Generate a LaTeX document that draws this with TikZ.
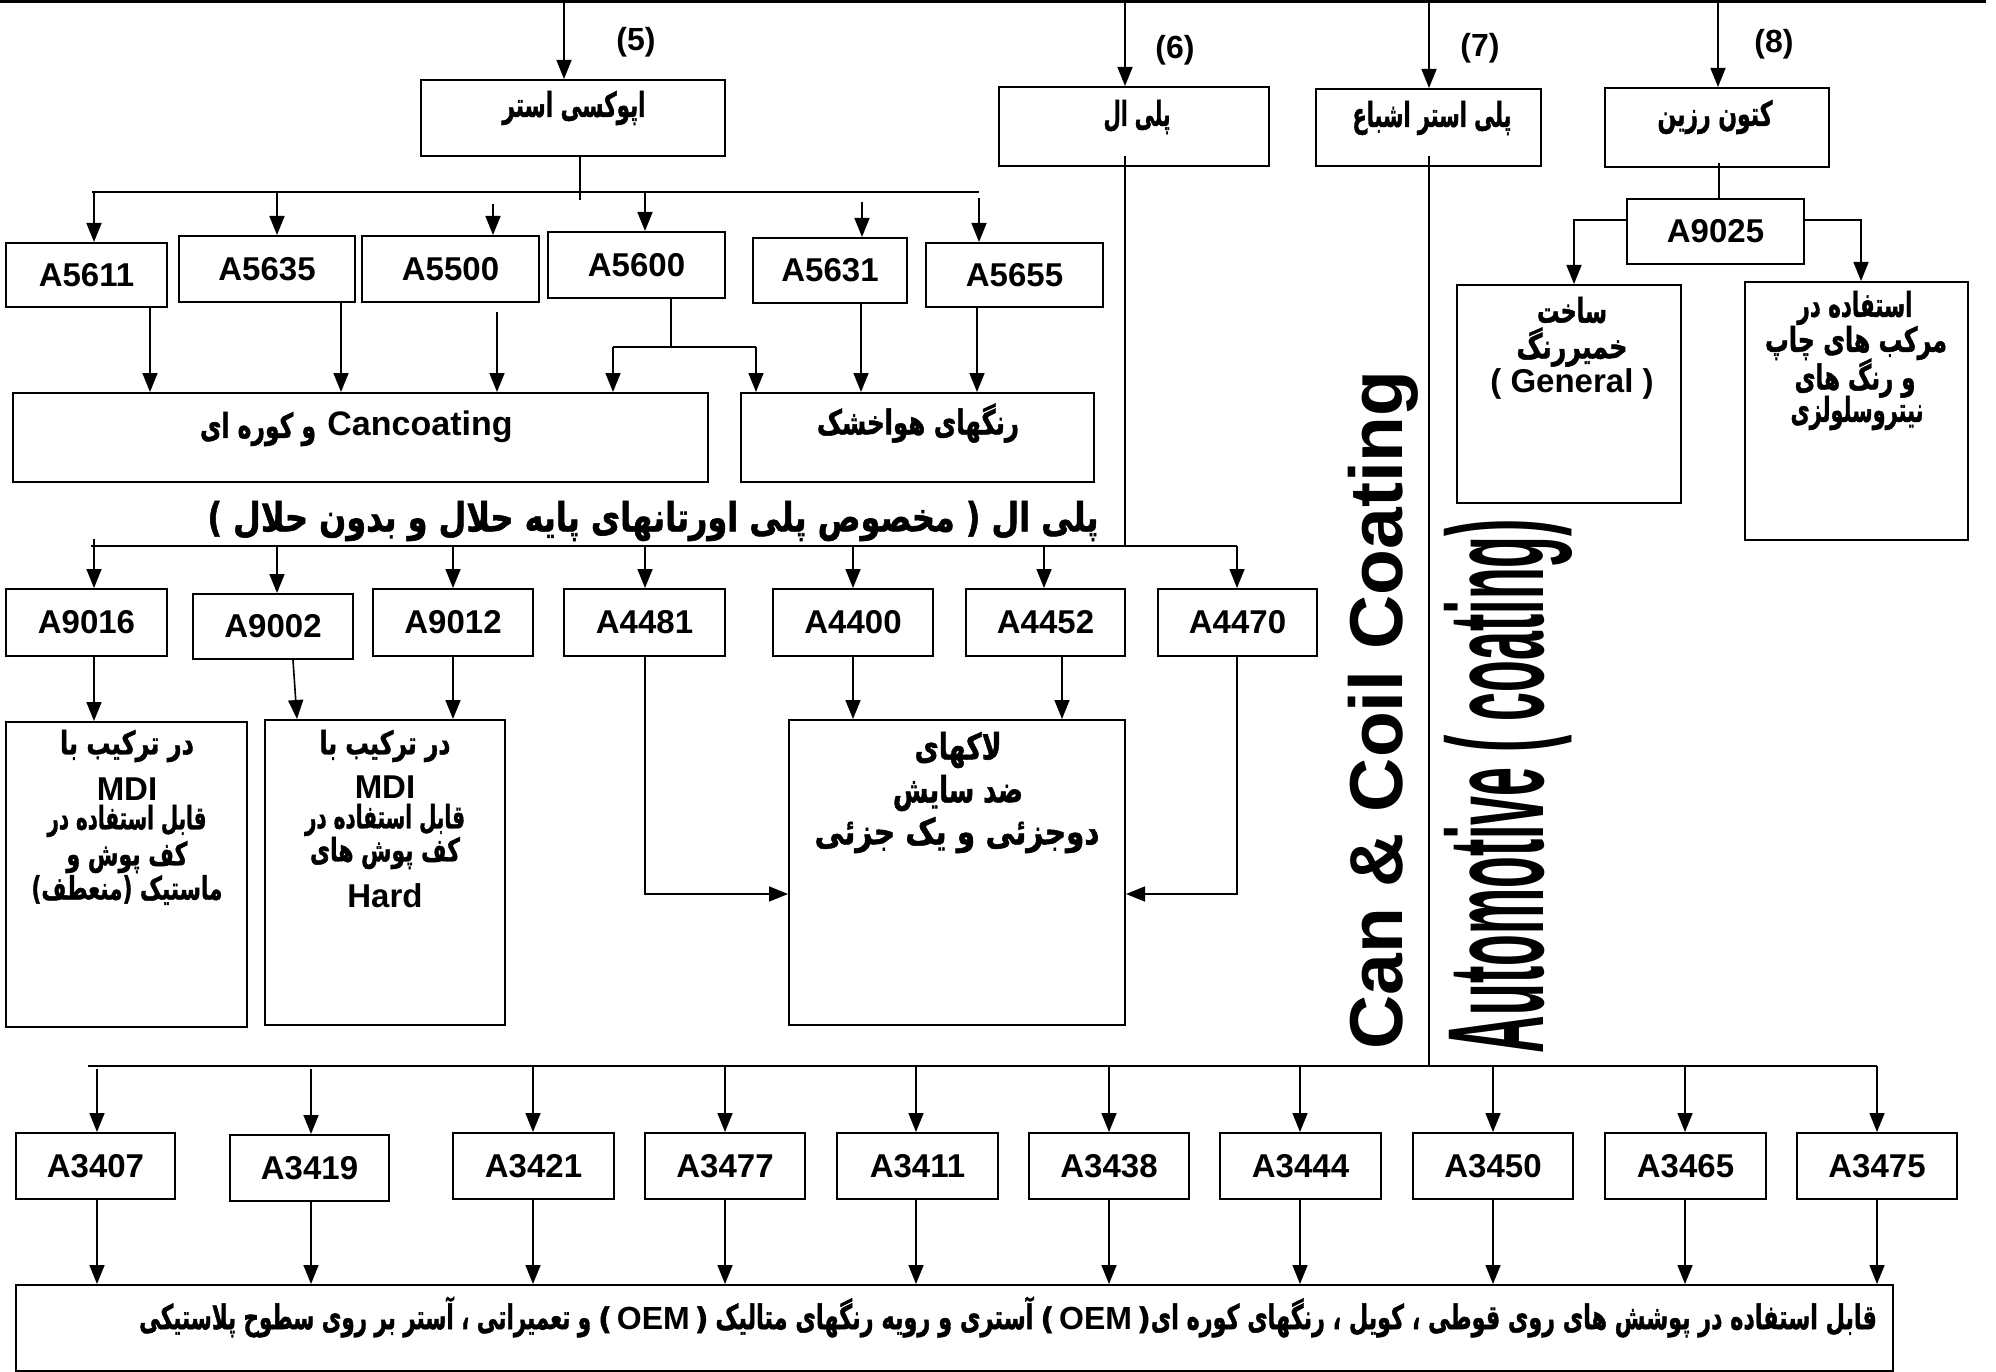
\documentclass[tikz,border=0pt]{standalone}
\usepackage{fontspec}
\usepackage{graphicx}
\setmainfont{Liberation Sans}
\newfontfamily\fa[Script=Arabic, BoldFeatures={FakeBold=1.5}]{DejaVu Sans}
\TeXXeTstate=1
\usetikzlibrary{arrows.meta}
\newcommand\pfa[2]{\resizebox{#1pt}{\height}{\fa\bfseries #2}}
\newcommand\oemgrp{{\fa\bfseries\fontsize{30}{32}\selectfont )}\hspace{5pt}{\bfseries\fontsize{32}{34}\selectfont OEM}\hspace{5pt}{\fa\bfseries\fontsize{30}{32}\selectfont (}}
\newcommand\bxat[6]{\node[bx, minimum width={(#4-#2)*1pt}, minimum height={(#5-#3)*1pt}] (#1) at ({(#2+#4)/2},{(#3+#5)/2}) {#6};}
\begin{document}
\begin{tikzpicture}[x=1pt,y=-1pt,
 bx/.style={draw, line width=2pt, inner sep=0pt, font=\bfseries\fontsize{33}{38}\selectfont},
 ln/.style={line width=1.6pt},
 arr/.style={line width=1.6pt, -{Triangle[length=19pt,width=15pt]}},
 fat/.style={inner sep=0pt, font=\fontsize{34}{38}\selectfont},
 fab/.style={inner sep=0pt, font=\fontsize{32}{36}\selectfont},
 lat/.style={inner sep=0pt, font=\bfseries\fontsize{33}{38}\selectfont},
 lbl/.style={inner sep=0pt, font=\bfseries\fontsize{32}{36}\selectfont}]
\fill[white] (0,0) rectangle (1996,1372);
\useasboundingbox (0,0) rectangle (1996,1372);

% top frame
\node[draw, line width=2.5pt, inner sep=0pt, minimum width=1983pt, minimum height=60pt, anchor=south west] (top) at (0,3) {};

% top level boxes
\bxat{epoxy}{421}{80}{725}{156}{}
\bxat{polyol}{999}{87}{1269}{166}{}
\bxat{polyester}{1316}{89}{1541}{166}{}
\bxat{ketone}{1605}{88}{1829}{167}{}
\node[fat] (epoxyT) at (574,108) {\pfa{143}{\beginR اپوکسی استر\endR}};
\node[fat] (polyolT) at (1137,117) {\pfa{67}{\beginR پلی ال\endR}};
\node[fat] (polyesterT) at (1432,118) {\pfa{159}{\beginR پلی استر اشباع\endR}};
\node[fat] (ketoneT) at (1715,117) {\pfa{115}{\beginR کتون رزین\endR}};

\coordinate (t5) at (564,3); \coordinate (t6) at (1125,3);
\coordinate (t7) at (1429,3); \coordinate (t8) at (1718,3);
\draw[arr] (top.south -| t5) -- (t5 |- epoxy.north);
\draw[arr] (top.south -| t6) -- (t6 |- polyol.north);
\draw[arr] (top.south -| t7) -- (t7 |- polyester.north);
\draw[arr] (top.south -| t8) -- (t8 |- ketone.north);
\node[lbl] (n5) at (636,42) {(5)};
\node[lbl] (n6) at (1175,50) {(6)};
\node[lbl] (n7) at (1480,48) {(7)};
\node[lbl] (n8) at (1774,44) {(8)};

% epoxy group
\bxat{A5611}{6}{243}{167}{307}{A5611}
\bxat{A5635}{179}{236}{355}{302}{A5635}
\bxat{A5500}{362}{236}{539}{302}{A5500}
\bxat{A5600}{548}{232}{725}{298}{A5600}
\bxat{A5631}{753}{238}{907}{303}{A5631}
\bxat{A5655}{926}{243}{1103}{307}{A5655}
\bxat{cnc}{13}{393}{708}{482}{}
\bxat{air}{741}{393}{1094}{482}{}
\node[fat] (cncP) at (258,429) {\pfa{116}{\beginR و کوره ای\endR}};
\node[lat, font=\bfseries\fontsize{34}{38}\selectfont] (cncL) at (420,427) {Cancoating};
\node[fat] (airT) at (918,423) {\pfa{202}{\beginR رنگهای هواخشک\endR}};

\coordinate (eL) at (92,192); \coordinate (eR) at (979,192); \coordinate (eD) at (580,200);
\draw[ln] (eL) -- (eR);
\draw[ln] (epoxy.south -| eD) -- (eD);
\foreach \n/\x/\s in {A5611/94/0, A5635/277/0, A5500/493/12, A5600/645/1, A5631/862/10, A5655/979/6}{
  \coordinate (c) at (\x,192);
  \draw[arr, shorten <=\s pt] (c) -- (c |- \n.north);
}
\foreach \n/\x/\t/\s in {A5611/150/cnc/0, A5635/341/cnc/0, A5500/497/cnc/9, A5631/861/air/0, A5655/977/air/0}{
  \coordinate (c) at (\x,0);
  \draw[arr, shorten <=\s pt] (\n.south -| c) -- (c |- \t.north);
}
\coordinate (s0) at (671,347); \coordinate (sL) at (613,347); \coordinate (sR) at (756,347);
\draw[ln] (A5600.south -| s0) -- (s0);
\draw[ln] (sL) -- (sR);
\draw[arr] (sL) -- (sL |- cnc.north);
\draw[arr] (sR) -- (sR |- air.north);

% polyol group
\node[fat, font=\fontsize{40}{44}\selectfont] (head) at (653,521) {\resizebox{891pt}{\height}{\fa\bfseries ) \beginR مخصوص پلی اورتانهای پایه حلال و بدون حلال\endR{} ( \beginR پلی ال\endR}};
\coordinate (pD) at (1125,546); \coordinate (pL) at (91,546); \coordinate (pR) at (1237,546);
\draw[ln, shorten <=-11pt] (polyol.south -| pD) -- (pD);
\draw[ln] (pL) -- (pR);
\bxat{A9016}{6}{589}{167}{656}{A9016}
\bxat{A9002}{193}{594}{353}{659}{A9002}
\bxat{A9012}{373}{589}{533}{656}{A9012}
\bxat{A4481}{564}{589}{725}{656}{A4481}
\bxat{A4400}{773}{589}{933}{656}{A4400}
\bxat{A4452}{966}{589}{1125}{656}{A4452}
\bxat{A4470}{1158}{589}{1317}{656}{A4470}
\foreach \n/\x/\s in {A9016/94/-7, A9002/277/0, A9012/453/0, A4481/645/0, A4400/853/0, A4452/1044/0, A4470/1237/0}{
  \coordinate (c) at (\x,546);
  \draw[arr, shorten <=\s pt] (c) -- (c |- \n.north);
}
\bxat{mdiA}{6}{722}{247}{1027}{}
\bxat{mdiB}{265}{720}{505}{1025}{}
\bxat{lac}{789}{720}{1125}{1025}{}
\coordinate (r1) at (94,0); \coordinate (r2a) at (293,0); \coordinate (r2b) at (297,0);
\coordinate (r3) at (453,0); \coordinate (r4) at (853,0); \coordinate (r5) at (1062,0);
\draw[arr] (A9016.south -| r1) -- (r1 |- mdiA.north);
\draw[arr] (A9002.south -| r2a) -- (r2b |- mdiB.north);
\draw[arr] (A9012.south -| r3) -- (r3 |- mdiB.north);
\draw[arr] (A4400.south -| r4) -- (r4 |- lac.north);
\draw[arr] (A4452.south -| r5) -- (r5 |- lac.north);
\coordinate (q1) at (645,894); \coordinate (q2) at (1237,894);
\draw[arr] (A4481.south -| q1) -- (q1) -- (q1 -| lac.west);
\draw[arr] (A4470.south -| q2) -- (q2) -- (q2 -| lac.east);

\node[fab] (mA1) at (127,746) {\pfa{134}{\beginR در ترکیب با\endR}};
\node[lat] (mA2) at (127,789) {MDI};
\node[fab] (mA3) at (127,821) {\pfa{159}{\beginR قابل استفاده در\endR}};
\node[fab] (mA4) at (127,857) {\pfa{121}{\beginR کف پوش و\endR}};
\node[fab] (mA5) at (127,890) {\resizebox{191pt}{\height}{\fa\bfseries )\beginR منعطف\endR( \beginR ماستیک\endR}};
\node[fab] (mB1) at (385,746) {\pfa{131}{\beginR در ترکیب با\endR}};
\node[lat] (mB2) at (385,787) {MDI};
\node[fab] (mB3) at (385,820) {\pfa{160}{\beginR قابل استفاده در\endR}};
\node[fab] (mB4) at (385,853) {\pfa{150}{\beginR کف پوش های\endR}};
\node[lat] (mB5) at (385,896) {Hard};
\node[fat, font=\fontsize{36}{40}\selectfont] (lc1) at (958,750) {\pfa{87}{\beginR لاکهای\endR}};
\node[fat, font=\fontsize{36}{40}\selectfont] (lc2) at (958,793) {\pfa{130}{\beginR ضد سایش\endR}};
\node[fat, font=\fontsize{36}{40}\selectfont] (lc3) at (957,835) {\pfa{285}{\beginR دوجزئی و یک جزئی\endR}};

% ketone group
\bxat{A9025}{1627}{199}{1804}{264}{A9025}
\bxat{gen}{1457}{285}{1681}{503}{}
\bxat{ink}{1745}{282}{1968}{540}{}
\coordinate (k) at (1719,0); \coordinate (kL) at (1574,220); \coordinate (kR) at (1861,220);
\draw[ln, shorten <=-5pt] (ketone.south -| k) -- (k |- A9025.north);
\draw[arr] (A9025.west |- kL) -- (kL) -- (kL |- gen.north);
\draw[arr] (A9025.east |- kR) -- (kR) -- (kR |- ink.north);
\node[fat] (g1) at (1572,310) {\pfa{70}{\beginR ساخت\endR}};
\node[fat] (g2) at (1572,347) {\pfa{111}{\beginR خمیررنگ\endR}};
\node[lat] (g3) at (1572,384) {( General )};
\node[fat] (i1) at (1855,308) {\pfa{115}{\beginR استفاده در\endR}};
\node[fat] (i2) at (1856,343) {\pfa{182}{\beginR مرکب های چاپ\endR}};
\node[fat] (i3) at (1855,378) {\pfa{121}{\beginR و رنگ های\endR}};
\node[fat] (i4) at (1857,413) {\pfa{133}{\beginR نیتروسلولزی\endR}};

% polyester group
\node[rotate=90, anchor=base, inner sep=0pt, font=\bfseries\fontsize{75}{80}\selectfont] (can) at (1402,710) {Can \& Coil Coating};
\node[rotate=90, anchor=base, inner sep=0pt, font=\bfseries\fontsize{137}{140}\selectfont] (auto) at (1543,786) {\resizebox{534pt}{\height}{Automotive ( coating)}};
\coordinate (yD) at (1429,1066); \coordinate (bL) at (88,1066); \coordinate (bR) at (1877,1066);
\draw[ln, shorten <=-11pt] (polyester.south -| yD) -- (yD);
\draw[ln] (bL) -- (bR);
\bxat{A3407}{16}{1133}{175}{1199}{A3407}
\bxat{A3419}{230}{1135}{389}{1201}{A3419}
\bxat{A3421}{453}{1133}{614}{1199}{A3421}
\bxat{A3477}{645}{1133}{805}{1199}{A3477}
\bxat{A3411}{837}{1133}{998}{1199}{A3411}
\bxat{A3438}{1029}{1133}{1189}{1199}{A3438}
\bxat{A3444}{1220}{1133}{1381}{1199}{A3444}
\bxat{A3450}{1413}{1133}{1573}{1199}{A3450}
\bxat{A3465}{1605}{1133}{1766}{1199}{A3465}
\bxat{A3475}{1797}{1133}{1957}{1199}{A3475}
\bxat{final}{16}{1285}{1893}{1371}{}
\foreach \n/\x/\s in {A3407/97/3, A3419/311/3, A3421/533/0, A3477/725/0, A3411/916/0, A3438/1109/0, A3444/1300/0, A3450/1493/0, A3465/1685/0, A3475/1877/0}{
  \coordinate (c) at (\x,1066);
  \draw[arr, shorten <=\s pt] (c) -- (c |- \n.north);
  \draw[arr] (\n.south -| c) -- (c |- final.north);
}
\node[fat, anchor=east, font=\fontsize{34}{38}\selectfont] (finalT) at (1877,1317) {\pfa{452}{\beginR و تعمیراتی ، آستر بر روی سطوح پلاستیکی\endR}\hspace{7pt}\oemgrp\hspace{7pt}\pfa{318}{\beginR آستری و رویه رنگهای متالیک\endR}\hspace{7pt}\oemgrp\pfa{726}{\beginR قابل استفاده در پوشش های روی قوطی ، کویل ، رنگهای کوره ای\endR}};
\end{tikzpicture}
\end{document}
